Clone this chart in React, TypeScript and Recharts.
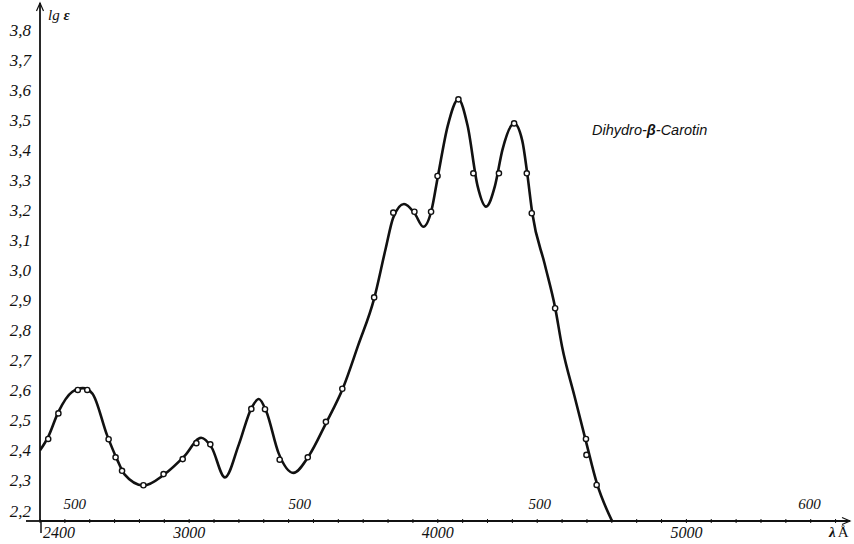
import React from 'react';
import { ComposedChart, Line, Scatter, XAxis, YAxis, ReferenceDot } from 'recharts';

// smooth absorption curve (λ in Å, lg ε)
const curveWavelength = [
  2400, 2433, 2474, 2530, 2572, 2610, 2670, 2710, 2740, 2816, 2900, 2980, 3048, 3090, 3144,
  3200, 3250, 3280, 3310, 3360, 3419, 3480, 3550, 3620, 3680, 3744, 3790, 3821, 3864, 3906, 3942,
  3975, 4000, 4040, 4083, 4120, 4160, 4194, 4230, 4260, 4307, 4340, 4360, 4380, 4430,
  4472, 4500, 4550, 4596, 4640, 4701,
];
const curveLgE = [
  2.40, 2.445, 2.528, 2.595, 2.607, 2.59, 2.45, 2.37, 2.32, 2.283, 2.32, 2.38, 2.442, 2.41, 2.31,
  2.42, 2.54, 2.571, 2.53, 2.39, 2.325, 2.38, 2.49, 2.61, 2.75, 2.905, 3.07, 3.175, 3.22, 3.19, 3.144,
  3.2, 3.31, 3.48, 3.568, 3.48, 3.28, 3.211, 3.28, 3.4, 3.488, 3.43, 3.32, 3.19, 3.02,
  2.875, 2.745, 2.58, 2.43, 2.29, 2.165,
];

// measured points (open circles)
const measuredWavelength = [
  2433, 2474, 2552, 2590, 2676, 2704, 2730, 2816, 2897, 2974, 3029, 3085, 3250, 3305,
  3364, 3477, 3550, 3616, 3744, 3821, 3906, 3973, 3999, 4083, 4143, 4246, 4307, 4358,
  4378, 4472, 4596, 4598, 4639,
];
const measuredLgE = [
  2.438, 2.523, 2.601, 2.601, 2.437, 2.377, 2.332, 2.284, 2.321, 2.371, 2.424, 2.42, 2.538, 2.537,
  2.369, 2.377, 2.495, 2.605, 2.909, 3.191, 3.194, 3.194, 3.313, 3.568, 3.322, 3.322, 3.488, 3.322,
  3.189, 2.873, 2.438, 2.385, 2.285,
];

const yTicks = [2.2, 2.3, 2.4, 2.5, 2.6, 2.7, 2.8, 2.9, 3.0, 3.1, 3.2, 3.3, 3.4, 3.5, 3.6, 3.7, 3.8];
const xTicks = [
  2400, 2500, 2600, 2700, 2800, 2900, 3000, 3100, 3200, 3300, 3400, 3500, 3600, 3700, 3800, 3900,
  4000, 4100, 4200, 4300, 4400, 4500, 4600, 4700, 4800, 4900, 5000, 5100, 5200, 5300, 5400, 5500, 5600,
];
const xLabelled = [2400, 3000, 4000, 5000];
const innerScaleAt = [2540, 3445, 4410, 5495];
const innerScaleLabels = ['500', '500', '500', '600'];

const curveData = curveWavelength.map((x, i) => ({ x, y: curveLgE[i] }));
const pointData = measuredWavelength.map((x, i) => ({ x, y: measuredLgE[i] }));

const SERIF = '"Liberation Serif", "Times New Roman", serif';

const XTick = (props: any) => {
  const { x, y, payload } = props;
  const v = payload.value;
  const hasLabel = xLabelled.includes(v);
  return (
    <g>
      <line x1={x} x2={x} y1={y - 2} y2={y + 2} stroke="#111" strokeWidth={1} />
      {hasLabel && (
        <text
          x={v === 2400 ? x + 3 : x}
          y={y + 17}
          textAnchor={v === 2400 ? 'start' : 'middle'}
          fontFamily={SERIF}
          fontStyle="italic"
          fontSize={16}
          fill="#111"
        >
          {v}
        </text>
      )}
    </g>
  );
};

const Dot = (props: any) => {
  const { cx, cy } = props;
  return <circle cx={cx} cy={cy} r={2.6} fill="#fff" stroke="#111" strokeWidth={1.4} />;
};

export default function App() {
  return (
    <div style={{ position: 'absolute', left: 0, top: 0, width: 854, height: 544, background: '#fff' }}>
      <ComposedChart width={854} height={544} margin={{ top: 5, right: 6, bottom: 0, left: 0 }}>
        <XAxis
          type="number"
          dataKey="x"
          domain={[2400, 5650]}
          ticks={xTicks}
          interval={0}
          height={23}
          tickSize={0}
          tickMargin={0}
          tickLine={false}
          axisLine={{ stroke: '#111', strokeWidth: 1.8 }}
          tick={<XTick />}
          allowDataOverflow
        />
        <YAxis
          type="number"
          dataKey="y"
          domain={[2.165, 3.882]}
          ticks={yTicks}
          interval={0}
          width={40}
          tickSize={0}
          tickMargin={9}
          tickLine={false}
          axisLine={{ stroke: '#111', strokeWidth: 1.8 }}
          tickFormatter={(v: number) => v.toFixed(1).replace('.', ',')}
          tick={{ fontFamily: SERIF, fontStyle: 'italic', fontSize: 17, fill: '#111' }}
          allowDataOverflow
        />
        <Line
          data={curveData}
          dataKey="y"
          type="monotone"
          stroke="#111"
          strokeWidth={2.6}
          dot={false}
          activeDot={false}
          isAnimationActive={false}
        />
        <Scatter data={pointData} dataKey="y" shape={<Dot />} isAnimationActive={false} />
        {innerScaleAt.map((v, i) => (
          <ReferenceDot
            key={v}
            x={v}
            y={2.2}
            r={0}
            fill="none"
            stroke="none"
            label={{
              value: innerScaleLabels[i],
              position: 'center',
              dy: -7,
              fontFamily: SERIF,
              fontStyle: 'italic',
              fontSize: 15,
              fill: '#111',
            }}
          />
        ))}
      </ComposedChart>
      <svg
        width={854}
        height={544}
        style={{ position: 'absolute', left: 0, top: 0, pointerEvents: 'none' }}
      >
        {/* axis arrows and extensions */}
        <path d="M36.5,11 L40,3 L43.5,11" fill="none" stroke="#111" strokeWidth={1.2} />
        <line x1={40} x2={40} y1={3} y2={6} stroke="#111" strokeWidth={1.8} />
        <path d="M842,517.5 L850,521 L842,524.5" fill="none" stroke="#111" strokeWidth={1.2} />
        <line x1={846} x2={850} y1={521} y2={521} stroke="#111" strokeWidth={1.8} />
        <line x1={26} x2={40} y1={521} y2={521} stroke="#111" strokeWidth={1.8} />
        <line x1={41} x2={41} y1={521} y2={533} stroke="#111" strokeWidth={1.5} />
        <text x={48} y={20} fontFamily={SERIF} fontStyle="italic" fontSize={15} fill="#111">
          lg <tspan fontWeight="bold">ε</tspan>
        </text>
        <text x={829} y={537} fontFamily={SERIF} fontSize={15} fill="#111">
          <tspan fontWeight="bold" fontStyle="italic">λ</tspan>
          <tspan dx={2}>Å</tspan>
        </text>
        <text
          x={592}
          y={135}
          fontFamily='"Liberation Sans", Arial, sans-serif'
          fontStyle="italic"
          fontSize={14.5}
          fill="#111"
        >
          Dihydro-<tspan fontWeight="bold">β</tspan>-Carotin
        </text>
      </svg>
    </div>
  );
}
